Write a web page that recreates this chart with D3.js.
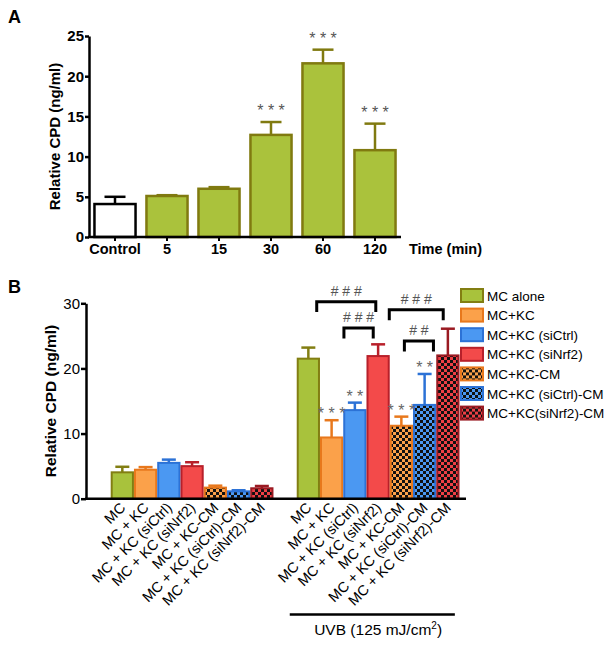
<!DOCTYPE html>
<html lang="en">
<head>
<meta charset="utf-8">
<script src="https://d3js.org/d3.v7.min.js"></script>
<style>
  body { margin: 0; background: #fff; }
  svg text { font-family: "Liberation Sans", Arial, sans-serif; }
</style>
</head>
<body>
<div id="chart"></div>
<script>
// ---- panel A data ----
var timeCats = ["Control", "5", "15", "30", "60", "120"];
var timeVals = [4.1, 5.1, 6.0, 12.7, 21.6, 10.8];
var timeErrs = [0.9, 0.1, 0.2, 1.6, 1.7, 3.3];
var timeStars = ["", "", "", "* * *", "* * *", "* * *"];
var ticksA = [0, 5, 10, 15, 20, 25];

// ---- panel B data ----
var groupLabels = ["MC", "MC + KC", "MC + KC (siCtrl)", "MC + KC (siNrf2)", "MC + KC-CM",
  "MC + KC (siCtrl)-CM", "MC + KC (siNrf2)-CM"];
var legendLabels = ["MC alone", "MC+KC", "MC+KC (siCtrl)", "MC+KC (siNrf2)", "MC+KC-CM",
  "MC+KC (siCtrl)-CM", "MC+KC(siNrf2)-CM"];
var noUvbVals = [4.05, 4.45, 5.5, 5.0, 1.7, 1.13, 1.6];
var noUvbErrs = [0.85, 0.4, 0.5, 0.6, 0.3, 0.17, 0.35];
var uvbVals = [21.5, 9.4, 13.6, 21.9, 11.2, 14.4, 22.0];
var uvbErrs = [1.7, 2.65, 1.15, 1.8, 1.4, 4.75, 4.1];
var uvbStars = ["", "* * *", "* *", "", "* * *", "* *", ""];
var ticksB = [0, 10, 20, 30];
// brackets: [from slot, to slot, top value, label]
var brackets = [
  [8.86, 11.4, 30.25, "# # #"],
  [10.03, 11.29, 26.2, "# # #"],
  [11.98, 14.3, 29.0, "# # #"],
  [12.63, 13.88, 24.2, "# #"]
];

var fills = ["#a8c23c", "#fba14a", "#4b98f2", "#f34a4a", "#fba14a", "#4b98f2", "#ee3f45"];
var strokes = ["#827e12", "#e8781c", "#2c72d6", "#b8202a", "#e8781c", "#2c72d6", "#9a1a22"];
var checked = [false, false, false, false, true, true, true];

var W = 604, H = 646;
var svg = d3.select("#chart").append("svg")
  .attr("width", W).attr("height", H);

// checker patterns
var defs = svg.append("defs");
fills.forEach(function (c, i) {
  if (!checked[i]) return;
  var p = defs.append("pattern")
    .attr("id", "chk" + i)
    .attr("patternUnits", "userSpaceOnUse")
    .attr("width", 6).attr("height", 6);
  p.append("rect").attr("width", 6).attr("height", 6).attr("fill", c);
  p.append("rect").attr("width", 3).attr("height", 3).attr("fill", "#111");
  p.append("rect").attr("x", 3).attr("y", 3).attr("width", 3).attr("height", 3).attr("fill", "#111");
});
function fillOf(i) { return checked[i] ? "url(#chk" + i + ")" : fills[i]; }

// ================= Panel A =================
var yA = d3.scaleLinear().domain([0, 25]).range([237, 36]);
var xA = d3.scaleBand().domain(timeCats).range([89, 401])
  .paddingInner(0.21).paddingOuter(0.105);

svg.append("text").attr("x", 8).attr("y", 23)
  .attr("font-size", 18).attr("font-weight", "bold").text("A");

var gA = svg.append("g");
gA.selectAll(".bar").data(timeCats).enter().append("rect")
  .attr("x", function (d) { return xA(d); })
  .attr("y", function (d, i) { return yA(timeVals[i]); })
  .attr("width", xA.bandwidth())
  .attr("height", function (d, i) { return yA(0) - yA(timeVals[i]); })
  .attr("fill", function (d, i) { return i == 0 ? "#fff" : "#aac23c"; })
  .attr("stroke", function (d, i) { return i == 0 ? "#000" : "#807a10"; })
  .attr("stroke-width", 2.5);

// error bars A
timeCats.forEach(function (d, i) {
  var cx = xA(d) + xA.bandwidth() / 2;
  var col = i == 0 ? "#000" : "#807a10";
  var top = yA(timeVals[i] + timeErrs[i]);
  gA.append("line").attr("x1", cx).attr("x2", cx)
    .attr("y1", yA(timeVals[i])).attr("y2", top)
    .attr("stroke", col).attr("stroke-width", 2.5);
  gA.append("line").attr("x1", cx - 10.5).attr("x2", cx + 10.5)
    .attr("y1", top).attr("y2", top)
    .attr("stroke", col).attr("stroke-width", 2.5);
  if (timeStars[i]) {
    gA.append("text").attr("x", cx).attr("y", top - 6)
      .attr("text-anchor", "middle").attr("font-size", 16)
      .attr("fill", "#555").text(timeStars[i]);
  }
});

var axA = gA.append("g").attr("transform", "translate(89,0)")
  .call(d3.axisLeft(yA).tickValues(ticksA).tickSize(4).tickSizeOuter(0));
axA.select(".domain").attr("stroke-width", 2.5);
axA.selectAll(".tick line").attr("stroke-width", 2.5);
axA.selectAll(".tick text").attr("font-size", 15).attr("font-weight", "bold")
  .attr("x", -5).attr("font-family", "Liberation Sans, Arial, sans-serif");

gA.append("line").attr("x1", 88).attr("x2", 401)
  .attr("y1", yA(0)).attr("y2", yA(0)).attr("stroke", "#000").attr("stroke-width", 2.5);
gA.selectAll(".xl").data(timeCats).enter().append("text")
  .attr("x", function (d) { return xA(d) + xA.bandwidth() / 2; })
  .attr("y", 254).attr("text-anchor", "middle")
  .attr("font-size", 14.5).attr("font-weight", "bold").text(function (d) { return d; });
gA.selectAll(".xt").data(timeCats).enter().append("line")
  .attr("x1", function (d) { return xA(d) + xA.bandwidth() / 2; })
  .attr("x2", function (d) { return xA(d) + xA.bandwidth() / 2; })
  .attr("y1", yA(0)).attr("y2", yA(0) + 4)
  .attr("stroke", "#000").attr("stroke-width", 2);
gA.append("text").attr("x", 409).attr("y", 254)
  .attr("font-size", 14.5).attr("font-weight", "bold").text("Time (min)");
gA.append("text").attr("transform", "translate(60," + (yA(12.5)) + ") rotate(-90)")
  .attr("text-anchor", "middle").attr("font-size", 15).attr("font-weight", "bold")
  .text("Relative CPD (ng/ml)");

// ================= Panel B =================
var yB = d3.scaleLinear().domain([0, 30]).range([498.7, 303.3]);
// 15 slots: 0-6 no UVB, 7 gap, 8-14 UVB
var xSlot = d3.scaleLinear().domain([0, 15]).range([110.7, 459.5]);
var slotW = xSlot(1) - xSlot(0);

svg.append("text").attr("x", 8).attr("y", 293)
  .attr("font-size", 18).attr("font-weight", "bold").text("B");

var gB = svg.append("g");
var barsB = [];
groupLabels.forEach(function (l, i) {
  barsB.push({ slot: i, k: i, v: noUvbVals[i], e: noUvbErrs[i], star: "", label: l });
});
groupLabels.forEach(function (l, i) {
  barsB.push({ slot: 8 + i, k: i, v: uvbVals[i], e: uvbErrs[i], star: uvbStars[i], label: l });
});

gB.selectAll(".barB").data(barsB).enter().append("rect")
  .attr("x", function (d) { return xSlot(d.slot) + 1; })
  .attr("y", function (d) { return yB(d.v); })
  .attr("width", slotW - 2)
  .attr("height", function (d) { return yB(0) - yB(d.v); })
  .attr("fill", function (d) { return fillOf(d.k); })
  .attr("stroke", function (d) { return strokes[d.k]; })
  .attr("stroke-width", 2);

barsB.forEach(function (d) {
  var cx = xSlot(d.slot + 0.5);
  var top = yB(d.v + d.e);
  gB.append("line").attr("x1", cx).attr("x2", cx)
    .attr("y1", yB(d.v)).attr("y2", top)
    .attr("stroke", strokes[d.k]).attr("stroke-width", 2.5);
  gB.append("line").attr("x1", cx - 7).attr("x2", cx + 7)
    .attr("y1", top).attr("y2", top)
    .attr("stroke", strokes[d.k]).attr("stroke-width", 2.5);
  if (d.star) {
    gB.append("text").attr("x", cx).attr("y", top - 1)
      .attr("text-anchor", "middle").attr("font-size", 16)
      .attr("fill", "#666").text(d.star);
  }
});

// brackets
brackets.forEach(function (b) {
  var x1 = xSlot(b[0]), x2 = xSlot(b[1]);
  var yt = yB(b[2]), yb = yB(b[2] - 1.6);
  gB.append("path")
    .attr("d", "M" + x1 + "," + yb + "V" + yt + "H" + x2 + "V" + yb)
    .attr("fill", "none").attr("stroke", "#000").attr("stroke-width", 3);
  gB.append("text").attr("x", (x1 + x2) / 2).attr("y", yt - 6)
    .attr("text-anchor", "middle").attr("font-size", 14).attr("fill", "#555")
    .text(b[3]);
});

var axB = gB.append("g").attr("transform", "translate(86,0)")
  .call(d3.axisLeft(yB).tickValues(ticksB).tickSize(5).tickSizeOuter(0));
axB.select(".domain").attr("stroke-width", 2.5);
axB.selectAll(".tick line").attr("stroke-width", 2.5);
axB.selectAll(".tick text").attr("font-size", 15).attr("x", -6)
  .attr("font-family", "Liberation Sans, Arial, sans-serif");
gB.append("line").attr("x1", 85).attr("x2", 466)
  .attr("y1", yB(0)).attr("y2", yB(0)).attr("stroke", "#000").attr("stroke-width", 2.5);

gB.selectAll(".xlb").data(barsB).enter().append("text")
  .attr("transform", function (d) {
    return "translate(" + (xSlot(d.slot + 0.5) + 4) + "," + (yB(0) + 10) + ") rotate(-45)";
  })
  .attr("text-anchor", "end").attr("font-size", 14.5)
  .text(function (d) { return d.label; });

gB.append("text").attr("transform", "translate(56," + yB(15) + ") rotate(-90)")
  .attr("text-anchor", "middle").attr("font-size", 15.5).attr("font-weight", "bold")
  .text("Relative CPD (ng/ml)");

// UVB bar + label
gB.append("line").attr("x1", xSlot(7.7)).attr("x2", xSlot(14.8))
  .attr("y1", 614.5).attr("y2", 614.5).attr("stroke", "#000").attr("stroke-width", 2.5);
var uvb = gB.append("text").attr("x", xSlot(11.5)).attr("y", 635)
  .attr("text-anchor", "middle").attr("font-size", 15.5);
uvb.append("tspan").text("UVB (125 mJ/cm");
uvb.append("tspan").attr("dy", -6).attr("font-size", 10).text("2");
uvb.append("tspan").attr("dy", 6).text(")");

// legend
var leg = svg.append("g").attr("transform", "translate(460,288)");
legendLabels.forEach(function (l, i) {
  var row = leg.append("g").attr("transform", "translate(0," + (i * 19.6) + ")");
  row.append("rect").attr("x", 1).attr("y", 1).attr("width", 22).attr("height", 13)
    .attr("fill", fillOf(i)).attr("stroke", strokes[i]).attr("stroke-width", 2);
  row.append("text").attr("x", 27).attr("y", 12.5).attr("font-size", 13.5).text(l);
});
</script>
</body>
</html>
